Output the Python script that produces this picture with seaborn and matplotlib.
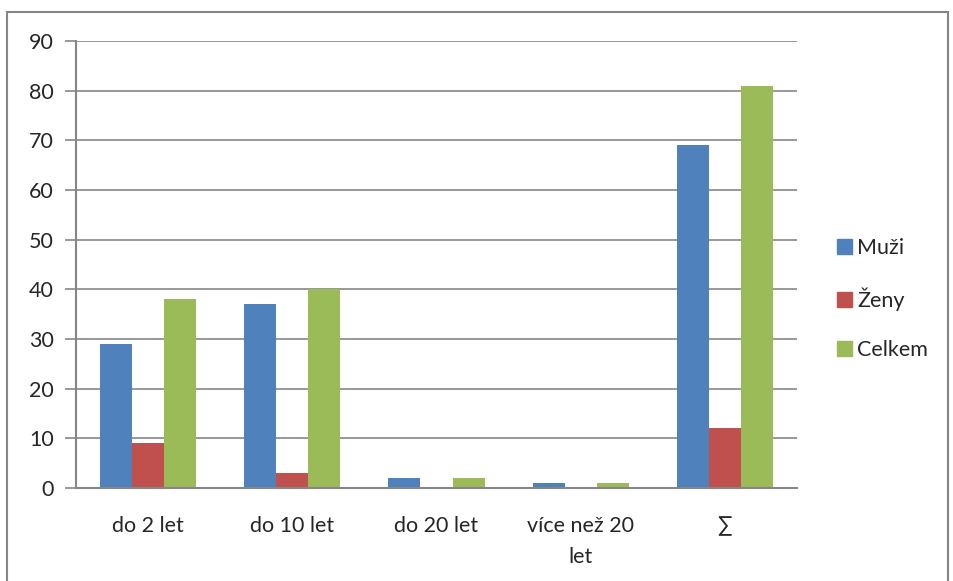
import matplotlib
matplotlib.use('Agg')
import matplotlib.pyplot as plt
import matplotlib.patches as mpatches
import pandas as pd
import seaborn as sns

categories = ['do 2 let', 'do 10 let', 'do 20 let', 'více než 20\nlet', '∑']
muzi = [29, 37, 2, 1, 69]
zeny = [9, 3, 0, 0, 12]
celkem = [38, 40, 2, 1, 81]
series = ['Muži', 'Ženy', 'Celkem']
colors = ['#4F81BD', '#C0504D', '#9BBB59']

df = pd.DataFrame({
    'kategorie': categories * 3,
    'hodnota': muzi + zeny + celkem,
    'skupina': [s for s in series for _ in categories],
})

sns.set_style('white')
plt.rcParams['font.family'] = ['Lato', 'DejaVu Sans']

fig = plt.figure(figsize=(9.54, 5.81), dpi=100)
ax = fig.add_axes([76 / 954, 1 - 488 / 581, (797 - 76) / 954, (488 - 41) / 581])

sns.barplot(data=df, x='kategorie', y='hodnota', hue='skupina',
            palette=colors, width=2 / 3, saturation=1, ax=ax,
            legend=False, errorbar=None, linewidth=0)

grid = '#868686'
ax.set_ylim(0, 90)
ax.set_xlim(-0.5, len(categories) - 0.5)
ax.set_yticks(range(0, 91, 10))
ax.yaxis.grid(True, color=grid, linewidth=1.2)
ax.set_axisbelow(True)
ax.set_xlabel('')
ax.set_ylabel('')
for side in ['top', 'right']:
    ax.spines[side].set_visible(False)
for side in ['left', 'bottom']:
    ax.spines[side].set_color(grid)
    ax.spines[side].set_linewidth(1.5)

ax.set_xticks([i - 0.5 for i in range(len(categories) + 1)], minor=True)
ax.tick_params(axis='x', which='major', length=0, pad=20, labelsize=15.5)
ax.tick_params(axis='x', which='minor', length=8, color=grid, width=1.2)
ax.tick_params(axis='y', length=8, color=grid, width=1.2, pad=8, labelsize=15.5,
               left=True)
for lbl in ax.get_xticklabels():
    lbl.set_linespacing(1.7)

handles = [mpatches.Patch(color=c) for c in colors]
ax.legend(handles, series, loc='center left', bbox_to_anchor=(1.04, 0.423),
          frameon=False, fontsize=15.5, handlelength=0.7, handleheight=0.7,
          handletextpad=0.25, labelspacing=1.35, borderpad=0)

fig.add_artist(mpatches.Rectangle((7 / 954, -0.05), (948 - 7) / 954, 1 - 12 / 581 + 0.05,
                                  transform=fig.transFigure, fill=False,
                                  edgecolor='#868686', linewidth=1.5))

fig.savefig('out.png', dpi=100)
